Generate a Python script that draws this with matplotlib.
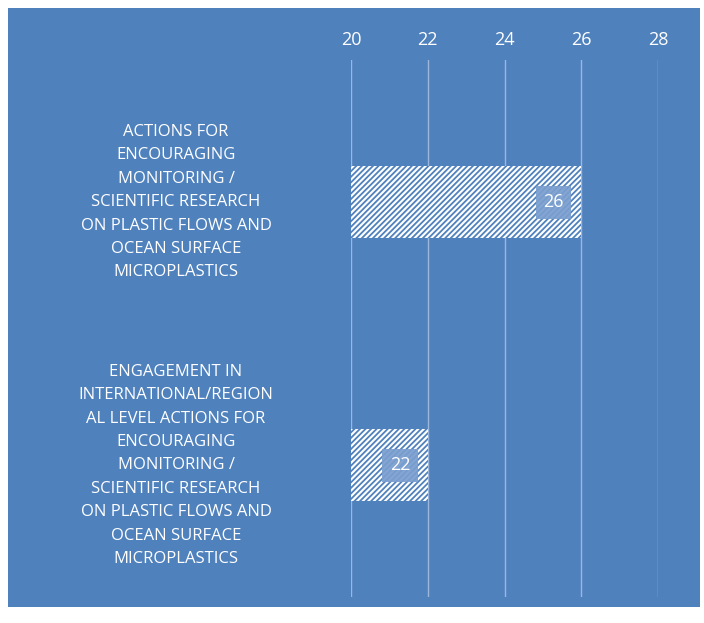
import matplotlib.pyplot as plt
from matplotlib.patches import Rectangle

categories = [
    "ACTIONS FOR\nENCOURAGING\nMONITORING /\nSCIENTIFIC RESEARCH\nON PLASTIC FLOWS AND\nOCEAN SURFACE\nMICROPLASTICS",
    "ENGAGEMENT IN\nINTERNATIONAL/REGION\nAL LEVEL ACTIONS FOR\nENCOURAGING\nMONITORING /\nSCIENTIFIC RESEARCH\nON PLASTIC FLOWS AND\nOCEAN SURFACE\nMICROPLASTICS",
]
values = [26, 22]
xticks = [20, 22, 24, 26, 28]

blue = "#4F81BD"
plt.rcParams['font.family'] = ['Open Sans', 'DejaVu Sans']
plt.rcParams['hatch.linewidth'] = 1.3

fig = plt.figure(figsize=(7.04, 6.23), dpi=100)
fig.patch.set_facecolor("white")
# blue chart area
fig.add_artist(Rectangle((8 / 704, 1 - 607 / 623), 692 / 704, 599 / 623,
                         transform=fig.transFigure, facecolor=blue,
                         edgecolor="none", zorder=-5))

ax = fig.add_axes([351 / 704, 1 - 597 / 623, 307 / 704, 537 / 623])
ax.set_facecolor("none")

y = list(range(len(categories)))
ax.barh(y, values, height=0.274, color="white", edgecolor=blue, hatch="//////",
        linewidth=0, zorder=2)

for yi, v in zip(y, values):
    ax.annotate(str(v), xy=(v, yi), xytext=(-20, 0), textcoords="offset points",
                ha="center", va="center", color="white", fontsize=13, zorder=4,
                bbox=dict(boxstyle="square,pad=0.42", facecolor="#7A9ECF",
                          edgecolor="none", alpha=0.92))
    ax.text(-0.57, yi, categories[yi], transform=ax.get_yaxis_transform(),
            ha="center", va="center", color="white", fontsize=12,
            linespacing=1.62)

ax.set_xlim(20, 28)
ax.set_ylim(-0.54, 1.5)
ax.invert_yaxis()
ax.set_xticks(xticks)
ax.xaxis.tick_top()
ax.tick_params(axis="x", length=0, pad=8, labelcolor="white", labelsize=13)
ax.set_yticks([])
ax.grid(axis="x", color="#9DB6DC", linewidth=1, zorder=1)
ax.set_axisbelow(True)
for s in ax.spines.values():
    s.set_visible(False)

fig.savefig("out.png", dpi=100)
